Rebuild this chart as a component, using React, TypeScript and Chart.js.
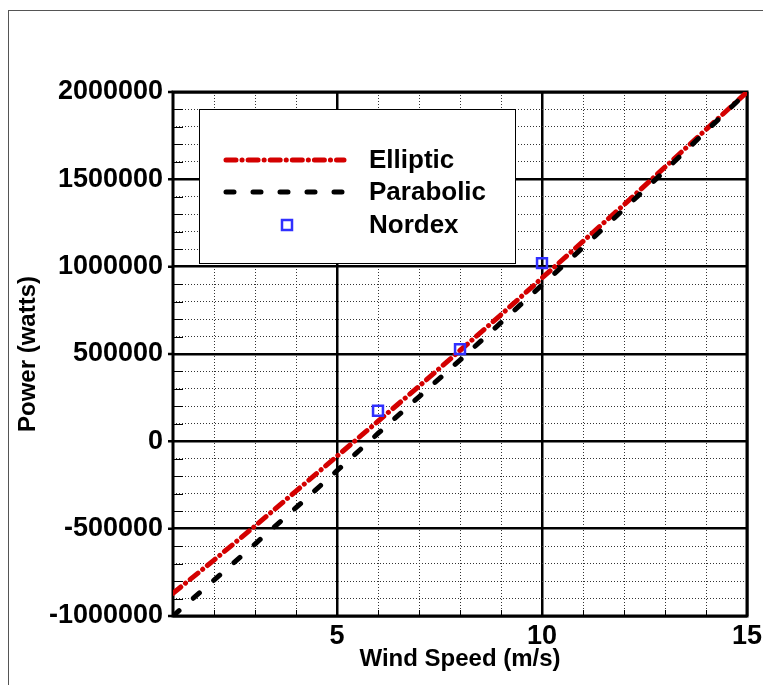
import React, { useEffect, useRef } from 'react';
import { Chart, registerables } from 'chart.js';

Chart.register(...registerables);

// ---- data ----
const windSpeed = [1, 2, 3, 4, 5, 6, 7, 8, 9, 10, 11, 12, 13, 14, 15];
const ellipticPower = [-870000, -680000, -485000, -285000, -85000, 115000, 315000, 520000, 725000, 935000, 1145000, 1355000, 1570000, 1785000, 2000000];
const parabolicPower = [-1000000, -795000, -588000, -380000, -168000, 45000, 255000, 465000, 680000, 895000, 1110000, 1330000, 1550000, 1775000, 2000000];
const nordexSpeed = [6, 8, 10];
const nordexPower = [175000, 528000, 1020000];

const seriesLabels = ['Elliptic', 'Parabolic', 'Nordex'];
const xTitle = 'Wind Speed (m/s)';
const yTitle = 'Power (watts)';

const xMin = 1;
const xMax = 15;
const yMin = -1000000;
const yMax = 2000000;
const xMajorTicks = [5, 10, 15];
const xMinorTicks = [2, 3, 4, 6, 7, 8, 9, 11, 12, 13, 14];
const yMajorTicks = [-1000000, -500000, 0, 500000, 1000000, 1500000, 2000000];
const yMinorTicks = [
  -900000, -800000, -700000, -600000, -400000, -300000, -200000, -100000,
  100000, 200000, 300000, 400000, 600000, 700000, 800000, 900000,
  1100000, 1200000, 1300000, 1400000, 1600000, 1700000, 1800000, 1900000,
];

const FONT = 'Arial, "Liberation Sans", Helvetica, sans-serif';
const RED = '#d40000';
const BLUE = '#3030ff';

const framePlugin = {
  id: 'frameAndBorder',
  beforeDraw(chart: any) {
    const ctx = chart.ctx;
    ctx.save();
    ctx.strokeStyle = '#555';
    ctx.lineWidth = 1;
    ctx.strokeRect(8.5, 10.5, 1000, 1000);
    ctx.restore();
  },
  beforeDatasetsDraw(chart: any) {
    const ctx = chart.ctx;
    const a = chart.chartArea;
    const sx = chart.scales.xMinor;
    const sy = chart.scales.yMinor;
    const sYMaj = chart.scales.y;
    ctx.save();
    ctx.strokeStyle = '#000';
    ctx.lineWidth = 1;
    ctx.beginPath();
    sy.ticks.forEach((t: any) => {
      const py = Math.round(sy.getPixelForValue(t.value)) + 0.5;
      ctx.moveTo(a.left, py);
      ctx.lineTo(a.left + 10, py);
    });
    sx.ticks.forEach((t: any) => {
      const px = Math.round(sx.getPixelForValue(t.value)) + 0.5;
      ctx.moveTo(px, a.bottom);
      ctx.lineTo(px, a.bottom - 6);
    });
    ctx.stroke();
    ctx.lineWidth = 2.5;
    ctx.beginPath();
    sYMaj.ticks.forEach((t: any) => {
      const py = sYMaj.getPixelForValue(t.value);
      ctx.moveTo(a.left - 5, py);
      ctx.lineTo(a.left, py);
    });
    ctx.stroke();
    ctx.lineWidth = 3;
    ctx.strokeRect(a.left, a.top, a.right - a.left, a.bottom - a.top);
    ctx.restore();
  },
};

const legendPlugin = {
  id: 'boxLegend',
  afterDatasetsDraw(chart: any) {
    const ctx = chart.ctx;
    const box = { x: 199.5, y: 109.5, w: 316, h: 154 };
    ctx.save();
    ctx.fillStyle = '#fff';
    ctx.fillRect(box.x, box.y, box.w, box.h);
    ctx.strokeStyle = '#000';
    ctx.lineWidth = 1;
    ctx.strokeRect(box.x, box.y, box.w, box.h);

    const ds = chart.data.datasets;
    const rowsY = [160, 192, 225];
    const baselines = [168, 200, 233];
    const x0 = 226;
    const x1 = 344;
    for (let i = 0; i < 3; i++) {
      const d: any = ds[i];
      if (i < 2) {
        ctx.save();
        ctx.strokeStyle = d.borderColor;
        ctx.lineWidth = d.borderWidth;
        ctx.lineCap = 'round';
        ctx.setLineDash(d.borderDash);
        ctx.beginPath();
        ctx.moveTo(x0, rowsY[i]);
        ctx.lineTo(x1, rowsY[i]);
        ctx.stroke();
        ctx.restore();
      } else {
        ctx.save();
        ctx.strokeStyle = d.pointBorderColor;
        ctx.lineWidth = d.pointBorderWidth;
        ctx.strokeRect(287 - 5, rowsY[i] - 5, 10, 10);
        ctx.restore();
      }
      ctx.fillStyle = '#000';
      ctx.font = `bold 26px ${FONT}`;
      ctx.textAlign = 'left';
      ctx.textBaseline = 'alphabetic';
      ctx.fillText(d.label, 369, baselines[i]);
    }
    ctx.restore();
  },
};

export default function App() {
  const canvasRef = useRef<HTMLCanvasElement | null>(null);

  useEffect(() => {
    const canvas = canvasRef.current;
    if (!canvas) return;
    const chart = new Chart(canvas, {
      type: 'scatter',
      data: {
        datasets: [
          {
            label: seriesLabels[0],
            data: windSpeed.map((x, i) => ({ x, y: ellipticPower[i] })),
            showLine: true,
            borderColor: RED,
            backgroundColor: RED,
            borderWidth: 5,
            borderDash: [10, 6, 0.1, 6],
            borderCapStyle: 'round',
            pointRadius: 0,
            order: 3,
          },
          {
            label: seriesLabels[1],
            data: windSpeed.map((x, i) => ({ x, y: parabolicPower[i] })),
            showLine: true,
            borderColor: '#000',
            backgroundColor: '#000',
            borderWidth: 5,
            borderDash: [8, 19],
            borderCapStyle: 'round',
            pointRadius: 0,
            order: 2,
          },
          {
            label: seriesLabels[2],
            data: nordexSpeed.map((x, i) => ({ x, y: nordexPower[i] })),
            showLine: false,
            pointStyle: 'rect',
            pointRadius: 7,
            pointBorderWidth: 2.5,
            pointBorderColor: BLUE,
            pointBackgroundColor: 'rgba(0,0,0,0)',
            order: 1,
          } as any,
        ],
      },
      options: {
        animation: false,
        responsive: false,
        maintainAspectRatio: false,
        layout: { padding: { top: 92, right: 16, bottom: 0, left: 0 } },
        plugins: { legend: { display: false }, tooltip: { enabled: false } },
        scales: {
          x: {
            type: 'linear',
            position: 'bottom',
            min: xMin,
            max: xMax,
            afterBuildTicks: (s: any) => { s.ticks = xMajorTicks.map((v) => ({ value: v })); },
            afterFit: (s: any) => { s.height = 69; s.paddingLeft = 0; s.paddingRight = 0; },
            grid: { color: '#000', lineWidth: 2.5, drawTicks: false },
            border: { display: false },
            ticks: {
              color: '#000',
              font: { family: FONT, size: 27, weight: 'bold' },
              padding: 4,
              maxRotation: 0,
              autoSkip: false,
            },
            title: {
              display: true,
              text: xTitle,
              color: '#000',
              font: { family: FONT, size: 24, weight: 'bold' },
              padding: { top: 0, bottom: 11 },
            },
          },
          xMinor: {
            type: 'linear',
            position: 'bottom',
            min: xMin,
            max: xMax,
            afterBuildTicks: (s: any) => { s.ticks = xMinorTicks.map((v) => ({ value: v })); },
            afterFit: (s: any) => { s.height = 0; },
            grid: { color: '#333', lineWidth: 1, drawTicks: false },
            border: { display: false, dash: [1, 2] },
            ticks: { display: false },
          },
          y: {
            type: 'linear',
            position: 'left',
            min: yMin,
            max: yMax,
            afterBuildTicks: (s: any) => { s.ticks = yMajorTicks.map((v) => ({ value: v })); },
            afterFit: (s: any) => { s.width = 173; s.paddingTop = 0; s.paddingBottom = 0; },
            grid: { color: '#000', lineWidth: 2.5, drawTicks: false },
            border: { display: false },
            ticks: {
              color: '#000',
              font: { family: FONT, size: 27, weight: 'bold' },
              padding: 10,
              autoSkip: false,
              callback: (v: any) => String(v),
            },
            title: {
              display: true,
              text: yTitle,
              color: '#000',
              font: { family: FONT, size: 24, weight: 'bold' },
              padding: { top: 14, bottom: 0 },
            },
          },
          yMinor: {
            type: 'linear',
            position: 'left',
            min: yMin,
            max: yMax,
            afterBuildTicks: (s: any) => { s.ticks = yMinorTicks.map((v) => ({ value: v })); },
            afterFit: (s: any) => { s.width = 0; },
            grid: { color: '#333', lineWidth: 1, drawTicks: false },
            border: { display: false, dash: [1, 2] },
            ticks: { display: false },
          },
        } as any,
      },
      plugins: [framePlugin, legendPlugin],
    });
    return () => chart.destroy();
  }, []);

  return (
    <div style={{ position: 'fixed', left: 0, top: 0, width: 763, height: 685, background: '#fff' }}>
      <canvas ref={canvasRef} width={763} height={685} style={{ display: 'block' }} />
    </div>
  );
}
